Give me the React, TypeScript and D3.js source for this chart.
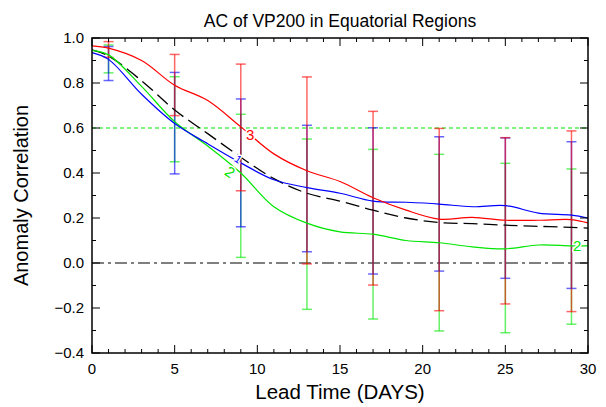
import React from "react";
import { scaleLinear, line, range, curveCatmullRom } from "d3";

const width = 606;
const height = 407;
const margin = { top: 38, right: 18, bottom: 54, left: 92 };

// lead time (days) where the curves are sampled
const days = [0, 1, 3, 5, 7, 9, 11, 13, 15, 17, 19, 21, 23, 25, 27, 29, 30];
const redAC = [0.965, 0.955, 0.9, 0.79, 0.722, 0.605, 0.485, 0.41, 0.362, 0.29, 0.235, 0.195, 0.203, 0.19, 0.19, 0.193, 0.178];
const greenAC = [0.945, 0.925, 0.785, 0.628, 0.52, 0.4, 0.25, 0.177, 0.138, 0.128, 0.1, 0.09, 0.072, 0.063, 0.08, 0.076, 0.076];
const blueAC = [0.935, 0.905, 0.75, 0.62, 0.53, 0.445, 0.37, 0.335, 0.31, 0.275, 0.27, 0.262, 0.25, 0.255, 0.222, 0.213, 0.2];
const meanAC = [0.947, 0.92, 0.81, 0.68, 0.575, 0.47, 0.375, 0.31, 0.275, 0.235, 0.2, 0.18, 0.175, 0.168, 0.163, 0.158, 0.155];

// error bars
const errDays = [1, 5, 9, 13, 17, 21, 25, 29];
const redHi = [0.984, 0.927, 0.884, 0.827, 0.674, 0.598, 0.557, 0.587];
const redLo = [0.914, 0.655, 0.321, -0.004, -0.098, -0.212, -0.182, -0.216];
const greenHi = [0.969, 0.828, 0.661, 0.551, 0.505, 0.483, 0.443, 0.418];
const greenLo = [0.845, 0.45, 0.025, -0.206, -0.249, -0.302, -0.31, -0.272];
const blueHi = [0.962, 0.847, 0.729, 0.612, 0.601, 0.561, 0.556, 0.539];
const blueLo = [0.811, 0.396, 0.161, 0.05, -0.049, -0.036, -0.068, -0.113];

const xTicks = [0, 5, 10, 15, 20, 25, 30];
const yTicks = [-0.4, -0.2, 0.0, 0.2, 0.4, 0.6, 0.8, 1.0];

// curve labels: [day, value, text, color, rotation]
const curveLabels: [number, number, string, string, number][] = [
  [9.56, 0.569, "3", "#ff0000", 0],
  [8.35, 0.404, "2", "#00e600", 35],
  [8.85, 0.462, "1", "#0000ff", 35],
  [29.35, 0.078, "2", "#00e600", 0],
];

const RED = "#ff0000";
const GREEN = "#00e600";
const BLUE = "#0000ff";

const font = "'Liberation Sans', Arial, sans-serif";

const App = () => {
  const innerWidth = width - margin.left - margin.right;
  const innerHeight = height - margin.top - margin.bottom;

  const x = scaleLinear().domain([0, 30]).range([0, innerWidth]);
  const y = scaleLinear().domain([-0.4, 1.0]).range([innerHeight, 0]);

  const path = line<number>()
    .x((_, i) => x(days[i]))
    .y((d) => y(d))
    .curve(curveCatmullRom.alpha(0.5));

  const bars = [
    { hi: greenHi, lo: greenLo, color: GREEN },
    { hi: blueHi, lo: blueLo, color: BLUE },
    { hi: redHi, lo: redLo, color: RED },
  ];

  const xMinor = range(0, 31, 1);
  const yMinor = range(-4, 11, 1).map((d) => d / 10);

  return (
    <svg width={width} height={height} style={{ position: "absolute", left: 0, top: 0, background: "#fff" }}>
      <text x={margin.left + innerWidth / 2} y={27} textAnchor="middle" fontFamily={font} fontSize={17.5}>
        AC of VP200 in Equatorial Regions
      </text>
      <g transform={`translate(${margin.left},${margin.top})`}>
        {/* reference lines */}
        <line x1={0} x2={innerWidth} y1={y(0.6)} y2={y(0.6)} stroke={GREEN} strokeWidth={1.2} strokeDasharray="4,3" />
        <line x1={0} x2={innerWidth} y1={y(0)} y2={y(0)} stroke="#000" strokeWidth={1.2} strokeDasharray="12,4,3,4" />

        {/* error bars */}
        {bars.map((b, k) => (
          <g key={k} stroke={b.color} strokeOpacity={0.6} strokeWidth={1.5}>
            {errDays.map((d, i) => (
              <g key={d}>
                <line x1={x(d)} x2={x(d)} y1={y(b.hi[i])} y2={y(b.lo[i])} />
                <line x1={x(d) - 5} x2={x(d) + 5} y1={y(b.hi[i])} y2={y(b.hi[i])} />
                <line x1={x(d) - 5} x2={x(d) + 5} y1={y(b.lo[i])} y2={y(b.lo[i])} />
              </g>
            ))}
          </g>
        ))}

        {/* curves */}
        <path d={path(meanAC) ?? ""} fill="none" stroke="#000" strokeWidth={1.3} strokeDasharray="14,6" />
        <path d={path(greenAC) ?? ""} fill="none" stroke={GREEN} strokeWidth={1.2} />
        <path d={path(blueAC) ?? ""} fill="none" stroke={BLUE} strokeWidth={1.2} />
        <path d={path(redAC) ?? ""} fill="none" stroke={RED} strokeWidth={1.2} />

        {curveLabels.map(([d, v, t, c, r], i) => (
          <text
            key={i}
            x={x(d)}
            y={y(v)}
            dy="0.35em"
            textAnchor="middle"
            fontFamily={font}
            fontSize={t === "1" ? 11 : 15}
            fill={c}
            stroke="#fff"
            strokeWidth={3}
            paintOrder="stroke"
            transform={r ? `rotate(${r},${x(d)},${y(v)})` : undefined}
          >
            {t}
          </text>
        ))}

        {/* frame */}
        <rect x={0} y={0} width={innerWidth} height={innerHeight} fill="none" stroke="#000" strokeWidth={1.5} />

        {/* ticks on all four sides, pointing inward */}
        {xMinor.map((d) => {
          const len = d % 5 === 0 ? 8 : 4;
          return (
            <g key={d} stroke="#000" strokeWidth={1}>
              <line x1={x(d)} x2={x(d)} y1={innerHeight} y2={innerHeight - len} />
              <line x1={x(d)} x2={x(d)} y1={0} y2={len} />
            </g>
          );
        })}
        {yMinor.map((v, i) => {
          const len = i % 2 === 0 ? 8 : 4;
          return (
            <g key={i} stroke="#000" strokeWidth={1}>
              <line x1={0} x2={len} y1={y(v)} y2={y(v)} />
              <line x1={innerWidth} x2={innerWidth - len} y1={y(v)} y2={y(v)} />
            </g>
          );
        })}

        {xTicks.map((d) => (
          <text key={d} x={x(d)} y={innerHeight + 21} textAnchor="middle" fontFamily={font} fontSize={15}>
            {d}
          </text>
        ))}
        {yTicks.map((v) => (
          <text key={v} x={-8} y={y(v)} dy="0.35em" textAnchor="end" fontFamily={font} fontSize={15}>
            {v < 0 ? "\u2212" + Math.abs(v).toFixed(1) : v.toFixed(1)}
          </text>
        ))}

        <text x={innerWidth / 2} y={innerHeight + 46} textAnchor="middle" fontFamily={font} fontSize={20.5}>
          Lead Time (DAYS)
        </text>
        <text
          transform={`translate(${-64},${innerHeight / 2}) rotate(-90)`}
          textAnchor="middle"
          fontFamily={font}
          fontSize={20}
        >
          Anomaly Correlation
        </text>
      </g>
    </svg>
  );
};

export default App;
